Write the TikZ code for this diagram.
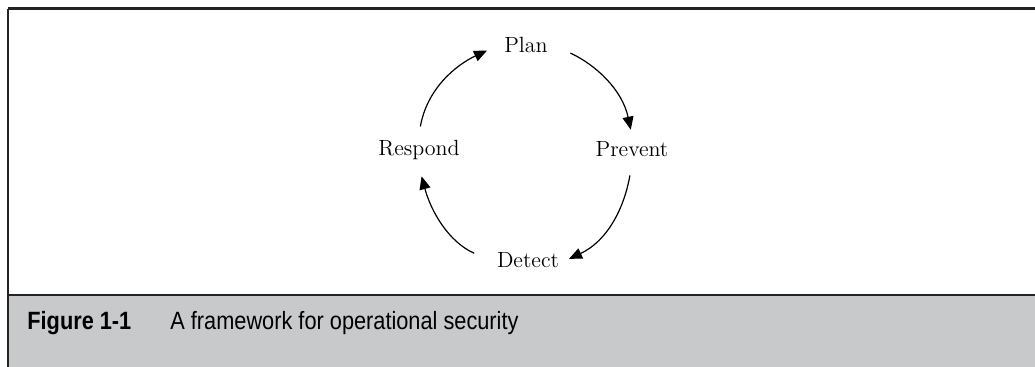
\documentclass[tikz,border=0pt]{standalone}
\usepackage{fontspec}
\newfontfamily\capfont[FakeStretch=0.87]{Liberation Sans}
\usetikzlibrary{arrows.meta}
\definecolor{bandgray}{RGB}{200,201,203}
\definecolor{rulecol}{RGB}{35,35,35}
\tikzset{>={Triangle[length=6.5pt,width=5.5pt]}}
\tikzset{
  stage/.style={anchor=base,font=\fontsize{11}{13}\selectfont,inner sep=3pt},
  cyc/.style={->,line width=0.6pt},
  captext/.style={anchor=base west,inner sep=0pt,font=\capfont\fontsize{12.5}{15}\selectfont}
}

\begin{document}
\begin{tikzpicture}[x=0.5pt,y=0.5pt]
  \useasboundingbox (0,0) rectangle (1035,367);
  % caption band
  \fill[bandgray] (8,0) rectangle (1035,72);
  \draw[rulecol,line width=1pt] (8,0) -- (8,358);
  \draw[rulecol,line width=1.5pt] (7.5,358) -- (1035,358);
  \draw[rulecol,line width=1.3pt] (8,72) -- (1035,72);
  \node[captext,font=\capfont\fontsize{12.5}{15}\selectfont\bfseries] (fig) at (27,37) {Figure 1-1};
  \node[captext] (cap) at (170,37) {A framework for operational security};
  % stages
  \node[stage] (plan)    at (526,314) {Plan};
  \node[stage] (prevent) at (632,210) {Prevent};
  \node[stage] (detect)  at (528,99)  {Detect};
  \node[stage] (respond) at (419,211) {Respond};
  % cycle
  \draw[cyc,shorten <=9pt,shorten >=3pt] (plan.east) to[out=-25,in=102] (prevent.north);
  \draw[cyc,shorten <=6pt,shorten >=2pt] (prevent.south) to[out=-100,in=25] (detect.east);
  \draw[cyc,shorten <=9pt,shorten >=5pt] (detect.west) to[out=156,in=-75] (respond.south);
  \draw[cyc,shorten <=4pt,shorten >=6pt] (respond.north) to[out=80,in=205] (plan.west);
\end{tikzpicture}
\end{document}
